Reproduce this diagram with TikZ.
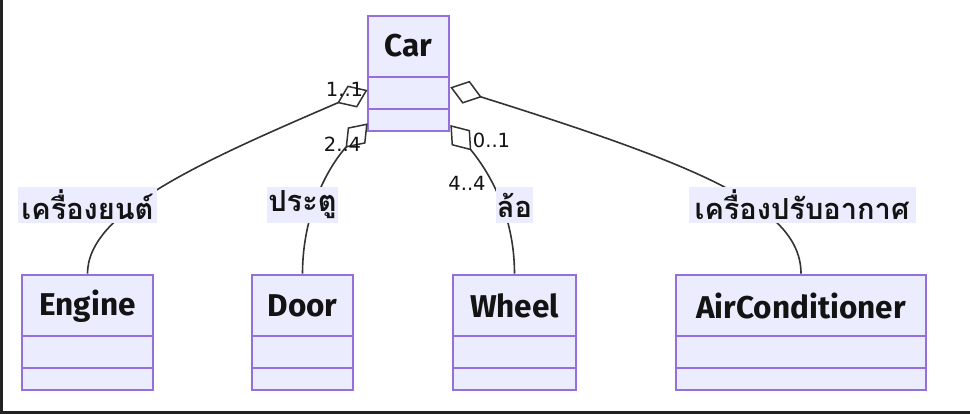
\documentclass[tikz,border=0pt]{standalone}
\usepackage{fontspec}
\setmainfont{Fira Sans}
\newfontfamily\thaifont[Script=Thai]{Loma}
\newfontfamily\multfont{DejaVu Sans}
\usetikzlibrary{arrows.meta}
\definecolor{boxfill}{HTML}{ECECFF}
\definecolor{boxline}{HTML}{9370DB}
\definecolor{edgeline}{HTML}{333333}
\definecolor{txt}{HTML}{131313}
\definecolor{frame}{HTML}{222222}
\tikzset{
  classbox/.style={draw=boxline, fill=boxfill, line width=2pt, inner sep=0pt},
  classname/.style={text=txt, font=\fontsize{31.5}{34}\selectfont\bfseries, inner sep=0pt},
  edgelabel/.style={fill=boxfill, text=txt, font=\thaifont\fontsize{29}{31}\selectfont\bfseries, inner sep=0pt, minimum height=36pt},
  mult/.style={text=txt, font=\multfont\fontsize{19.5}{21}\selectfont, inner sep=0pt},
  agg/.style={draw=edgeline, line width=1.6pt, {Diamond[length=33pt,width=24pt,fill=white,line width=1.5pt]}-},
  divider/.style={draw=boxline, line width=2pt}
}
\begin{document}
\begin{tikzpicture}[x=1pt,y=-1pt]
\useasboundingbox (0,0) rectangle (970,414);
\fill[white] (0,0) rectangle (970,414);
\fill[frame] (0,0) rectangle (2.5,414);
\fill[frame] (0,410.5) rectangle (970,414);

% Car
\node[classbox, minimum width=81pt, minimum height=115pt] (car) at (408.5,73.2) {};
\draw[divider] (368,76.7) -- (449,76.7) (368,109) -- (449,109);
\node[classname] (carname) at (408.5,46) {Car};

% bottom classes
\node[classbox, minimum width=130.5pt, minimum height=115.3pt] (engine) at (87.5,332.35) {};
\node[classbox, minimum width=101pt, minimum height=115.3pt] (door) at (302.5,332.35) {};
\node[classbox, minimum width=123pt, minimum height=115.3pt] (wheel) at (514.5,332.35) {};
\node[classbox, minimum width=250pt, minimum height=115.3pt] (ac) at (801,332.35) {};
\foreach \n in {engine,door,wheel,ac}{
  \draw[divider] (\n.west |- 0,336) -- (\n.east |- 0,336);
  \draw[divider] (\n.west |- 0,368) -- (\n.east |- 0,368);
}
\node[classname] (enginename) at (87.5,306) {Engine};
\node[classname] (doorname) at (302.5,306) {Door};
\node[classname] (wheelname) at (514.5,306) {Wheel};
\node[classname] (acname) at (801,306) {AirConditioner};

% attach points on Car
\coordinate (carE) at (367.5,90);
\coordinate (carD) at (367.7,123.3);
\coordinate (carW) at (450.3,125);
\coordinate (carA) at (450.3,87.3);

% edges
\draw[agg] (carE) .. controls +(-167,72) and +(0,-62) .. (engine.north);
\draw[agg] (carD) .. controls +(-40,44) and +(0,-60) .. (door.north);
\draw[agg] (carW) .. controls +(38,46) and +(0,-60) .. (wheel.north);
\draw[agg] (carA) .. controls +(255,80) and +(0,-65) .. (ac.north);

% edge labels
\node[edgelabel, minimum width=139pt] (lengine) at (87.5,205) {เครื่องยนต์};
\node[edgelabel, minimum width=71pt] (ldoor) at (302.5,205) {ประตู};
\node[edgelabel, minimum width=37pt] (lwheel) at (514.5,205) {ล้อ};
\node[edgelabel, minimum width=227pt] (lac) at (802,205) {เครื่องปรับอากาศ};

% multiplicities
\node[mult] (m1) at (344.5,89.5) {1..1};
\node[mult] (m2) at (342.5,144) {2..4};
\node[mult] (m3) at (491.5,140) {0..1};
\node[mult] (m4) at (467,183) {4..4};
\end{tikzpicture}
\end{document}
